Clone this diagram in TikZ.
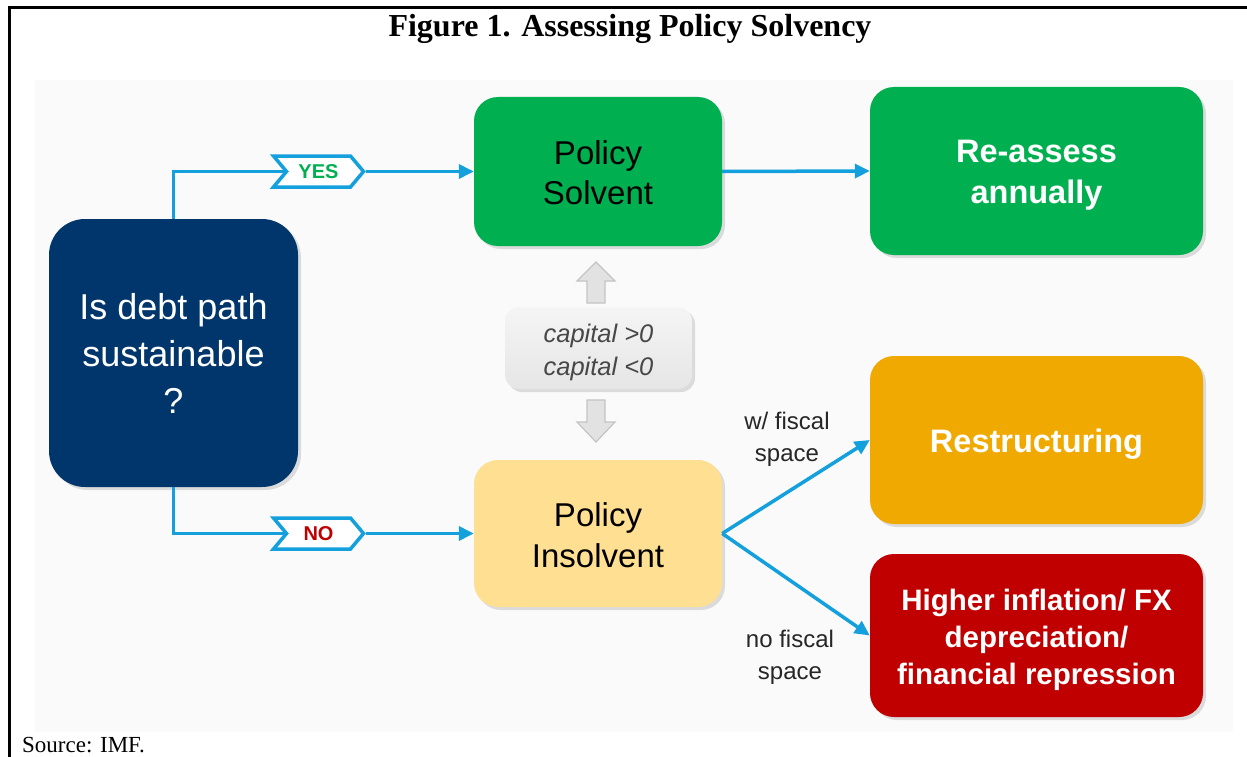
\documentclass[tikz,border=0pt]{standalone}
\usepackage{fontspec}
\setmainfont{Liberation Sans}
\newfontfamily\timesfont{Liberation Serif}
\usetikzlibrary{arrows.meta,shapes.symbols,shadows}

\definecolor{navy}{HTML}{00366B}
\definecolor{okgreen}{HTML}{00B050}
\definecolor{paleyellow}{HTML}{FFDF91}
\definecolor{gold}{HTML}{F0A900}
\definecolor{darkred}{HTML}{C00000}
\definecolor{linkblue}{HTML}{13A0DC}
\definecolor{panel}{HTML}{FAFAFA}
\definecolor{hollowfill}{HTML}{E2E2E2}
\definecolor{hollowline}{HTML}{C4C4C4}

\begin{document}
\begin{tikzpicture}[x=1pt,y=-1pt,
  box/.style={rectangle, rounded corners=24pt, inner sep=0pt,
    drop shadow={shadow xshift=3pt, shadow yshift=-3pt, opacity=0.25}},
  boxtext/.style={align=center, inner sep=0pt},
  link/.style={draw=linkblue, line width=3.5pt},
  arrowlink/.style={link, -{Triangle[length=15pt,width=14pt]}},
  tag/.style={signal, signal from=west, signal to=east, signal pointer angle=100,
    draw=linkblue, line width=3.5pt, fill=white, minimum width=90pt,
    minimum height=31pt, inner sep=0pt, font=\bfseries\fontsize{20}{20}\selectfont},
  hollow/.style={fill=hollowfill, draw=hollowline, line width=1.2pt, line join=miter},
  note/.style={align=center, font=\fontsize{24}{32}\selectfont, text=black!85}
]
\useasboundingbox (0,0) rectangle (1247,757);

% page frame and panel
\fill[panel] (35,80) rectangle (1233,732);
\draw[line width=3pt] (9,757) -- (9,8) -- (1247,8);

\node[font=\timesfont\bfseries\fontsize{32}{36}\selectfont] (title) at (630,29)
  {Figure 1. Assessing Policy Solvency};
\node[font=\timesfont\fontsize{23}{26}\selectfont, anchor=base west, inner sep=0pt]
  (source) at (22,752) {Source: IMF.};

% boxes
\node[box, rounded corners=36pt, fill=navy, minimum width=249pt, minimum height=268pt,
  label={[boxtext, text=white, font=\fontsize{36}{47}\selectfont]center:{Is debt path\\sustainable\\?}}]
  (q) at (173.5,353) {};
\node[box, fill=okgreen, minimum width=248pt, minimum height=149pt,
  label={[boxtext, text=black, font=\fontsize{33}{40}\selectfont, yshift=-1pt]center:{Policy\\Solvent}}]
  (solv) at (598,171.5) {};
\node[box, fill=okgreen, minimum width=333pt, minimum height=168pt,
  label={[boxtext, text=white, font=\bfseries\fontsize{32.5}{41}\selectfont, yshift=-4.5pt]center:{Re-assess\\annually}}]
  (reas) at (1036.5,171) {};
\node[box, fill=paleyellow, minimum width=248pt, minimum height=147pt,
  label={[boxtext, text=black, font=\fontsize{33}{41}\selectfont, yshift=-1.5pt]center:{Policy\\Insolvent}}]
  (insolv) at (598,533.5) {};
\node[box, fill=gold, minimum width=333pt, minimum height=168pt,
  label={[boxtext, text=white, font=\bfseries\fontsize{32.5}{41}\selectfont, yshift=-4pt]center:{Restructuring}}]
  (restr) at (1036.5,440) {};
\node[box, fill=darkred, minimum width=333pt, minimum height=163pt,
  label={[boxtext, text=white, font=\bfseries\fontsize{29.5}{37}\selectfont, yshift=-4.5pt]center:{Higher inflation/ FX\\depreciation/\\financial repression}}]
  (infl) at (1036.5,635.5) {};
\node[box, rounded corners=14pt, top color=gray!8, bottom color=gray!20,
  minimum width=187pt, minimum height=82pt,
  label={[boxtext, text=black!72, font=\itshape\fontsize{25.5}{33}\selectfont, yshift=-4pt]center:{capital >0\\capital <0}}]
  (cap) at (598.5,348) {};

% hollow arrows around the capital box
\draw[hollow] (587,303) -- (587,281) -- (577,281) -- (596,262) -- (615,281)
  -- (605,281) -- (605,303) -- cycle;
\draw[hollow] (587,400) -- (587,422) -- (577,422) -- (596,442) -- (615,422)
  -- (605,422) -- (605,400) -- cycle;

% decision tags
\node[tag, text=okgreen] (yes) at (318.5,171.5) {YES};
\node[tag, text=darkred] (no) at (318.5,533.5) {NO};

% connectors
\draw[link] (q.north) |- (yes.west);
\draw[arrowlink] (yes.east) -- (solv.west);
\draw[link] (q.south) |- (no.west);
\draw[arrowlink] (no.east) -- (insolv.west);
\draw[arrowlink] (solv.east) -- (reas.west);
\draw[arrowlink] (insolv.east) -- (restr.west);
\draw[arrowlink] (insolv.east) -- (infl.west);

% branch labels
\node[note] (wfs) at (787,439) {w/ fiscal\\space};
\node[note] (nfs) at (790,657) {no fiscal\\space};
\end{tikzpicture}
\end{document}
